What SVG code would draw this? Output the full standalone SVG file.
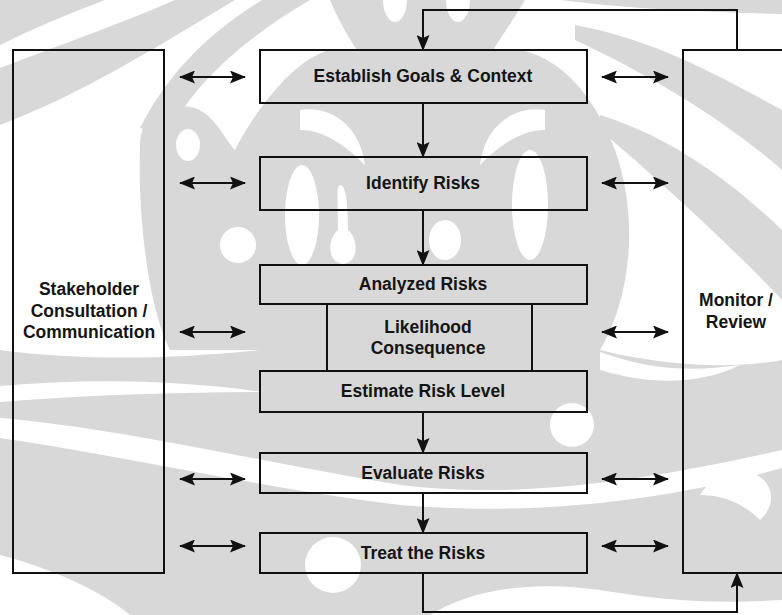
<svg xmlns="http://www.w3.org/2000/svg" width="782" height="615" viewBox="0 0 782 615">
  <style>
    .box { fill: none; stroke: #111; stroke-width: 2; }
    .wire { fill: none; stroke: #111; stroke-width: 2; }
    .label { font-family: "Liberation Sans", Arial, sans-serif; font-size: 17.5px; font-weight: bold; fill: #141414; text-anchor: middle; }
    .wm { fill: #d8d8d8; }
    .wm-hole { fill: #ffffff; }
  </style>
  <defs>
    <marker id="head" viewBox="0 0 16 13" refX="15" refY="6.5" markerWidth="16" markerHeight="13" markerUnits="userSpaceOnUse" orient="auto-start-reverse">
      <path d="M0,0 L16,6.5 L0,13 L3,6.5 Z" fill="#111"/>
    </marker>
  </defs>

  <rect width="782" height="615" fill="#ffffff"/>

  <!-- background ornament -->
  <g id="watermark">
    <!-- upper left sweeps -->
    <path class="wm" d="M0,0 H105 C65,15 30,30 0,45 Z"/>
    <path class="wm" d="M0,68 C60,45 130,20 175,0 H235 C160,45 80,95 0,125 Z"/>
    <path class="wm" d="M262,0 H310 C250,35 195,80 168,135 L140,128 C168,72 212,30 262,0 Z"/>
    <!-- crown -->
    <path class="wm" d="M330,0 H525 C512,22 500,38 492,52 H358 C348,36 338,20 330,0 Z"/>
    <ellipse class="wm-hole" cx="395" cy="0" rx="12" ry="22"/>
    <ellipse class="wm-hole" cx="458" cy="0" rx="12" ry="22"/>
    <!-- central mask -->
    <path class="wm" d="M140,150 C138,115 165,100 195,108 C215,115 225,140 235,150 C250,120 290,60 330,50 H520 C570,60 600,110 615,150 C640,220 630,300 600,350 H170 C145,300 138,200 140,150 Z"/>
    <ellipse class="wm-hole" cx="188" cy="145" rx="12" ry="16"/>
    <circle class="wm-hole" cx="238" cy="245" r="18"/>
    <path class="wm-hole" d="M300,110 C330,105 360,125 365,165 C340,140 320,130 300,130 Z"/>
    <path class="wm-hole" d="M545,110 C515,105 485,125 480,165 C505,140 525,130 545,130 Z"/>
    <ellipse class="wm-hole" cx="302" cy="215" rx="17" ry="50"/>
    <path class="wm-hole" d="M340,185 C346,185 348,205 348,230 C358,238 360,262 343,264 C326,262 328,238 338,230 C338,205 336,185 340,185 Z"/>
    <ellipse class="wm-hole" cx="445" cy="240" rx="16" ry="20"/>
    <ellipse class="wm-hole" cx="530" cy="205" rx="18" ry="55"/>
    <!-- upper right sweeps -->
    <path class="wm" d="M560,0 H782 V14 C700,12 620,8 560,0 Z"/>
    <path class="wm" d="M575,25 C660,40 735,85 782,110 V170 C725,120 650,75 575,40 Z"/>
    <path class="wm" d="M600,115 C680,140 740,190 782,230 V300 C735,250 665,185 600,130 Z"/>
    <!-- lower field -->
    <path class="wm" d="M0,350 C90,362 180,358 260,350 H600 C660,365 730,370 782,360 V615 H0 Z"/>
    <path class="wm-hole" d="M0,386 C90,378 180,380 262,392 C180,392 90,395 0,402 Z"/>
    <path class="wm-hole" d="M0,418 C120,428 260,462 400,485 C520,500 650,480 782,450 V468 C650,505 520,515 400,505 C260,488 120,455 0,438 Z"/>
    <path class="wm-hole" d="M600,352 C650,370 690,372 740,365 C700,385 650,385 600,370 Z"/>
    <circle class="wm-hole" cx="572" cy="425" r="22"/>
    <path class="wm-hole" d="M735,470 C770,470 782,500 760,520 C745,505 725,495 700,495 C710,480 720,472 735,470 Z"/>
    <path class="wm-hole" d="M0,555 C50,568 100,590 130,615 H0 Z"/>
    <circle class="wm-hole" cx="333" cy="565" r="28"/>
    <path class="wm-hole" d="M430,615 C470,590 530,580 600,590 C650,598 700,605 782,600 V615 Z"/>
  </g>

  <!-- connectors -->
  <g id="connectors">
    <!-- main chain -->
    <line class="wire" x1="423" y1="103" x2="423" y2="157" marker-end="url(#head)"/>
    <line class="wire" x1="423" y1="210" x2="423" y2="265" marker-end="url(#head)"/>
    <line class="wire" x1="423" y1="412" x2="423" y2="453" marker-end="url(#head)"/>
    <line class="wire" x1="423" y1="493" x2="423" y2="533" marker-end="url(#head)"/>
    <!-- feedback loops -->
    <polyline class="wire" points="737,50 737,10 423,10 423,50" marker-end="url(#head)"/>
    <polyline class="wire" points="423,573 423,612 737,612 737,573" marker-end="url(#head)"/>
    <!-- stakeholder links -->
    <line class="wire" x1="180" y1="77" x2="245" y2="77" marker-start="url(#head)" marker-end="url(#head)"/>
    <line class="wire" x1="180" y1="183" x2="245" y2="183" marker-start="url(#head)" marker-end="url(#head)"/>
    <line class="wire" x1="180" y1="332" x2="245" y2="332" marker-start="url(#head)" marker-end="url(#head)"/>
    <line class="wire" x1="180" y1="479" x2="245" y2="479" marker-start="url(#head)" marker-end="url(#head)"/>
    <line class="wire" x1="180" y1="546" x2="245" y2="546" marker-start="url(#head)" marker-end="url(#head)"/>
    <!-- monitor links -->
    <line class="wire" x1="602" y1="77" x2="668" y2="77" marker-start="url(#head)" marker-end="url(#head)"/>
    <line class="wire" x1="602" y1="183" x2="668" y2="183" marker-start="url(#head)" marker-end="url(#head)"/>
    <line class="wire" x1="602" y1="332" x2="668" y2="332" marker-start="url(#head)" marker-end="url(#head)"/>
    <line class="wire" x1="602" y1="479" x2="668" y2="479" marker-start="url(#head)" marker-end="url(#head)"/>
    <line class="wire" x1="602" y1="546" x2="668" y2="546" marker-start="url(#head)" marker-end="url(#head)"/>
  </g>

  <g id="stakeholder">
    <rect class="box" x="13" y="50" width="151" height="523"/>
    <text class="label" x="89" y="295">Stakeholder</text>
    <text class="label" x="89" y="317">Consultation /</text>
    <text class="label" x="89" y="338">Communication</text>
  </g>

  <g id="monitor">
    <rect class="box" x="683" y="50" width="110" height="523"/>
    <text class="label" x="736" y="306">Monitor /</text>
    <text class="label" x="736" y="328">Review</text>
  </g>

  <g id="establish">
    <rect class="box" x="260" y="50" width="327" height="53"/>
    <text class="label" x="423" y="82">Establish Goals &amp; Context</text>
  </g>

  <g id="identify">
    <rect class="box" x="260" y="157" width="327" height="53"/>
    <text class="label" x="423" y="189">Identify Risks</text>
  </g>

  <g id="analyzed">
    <rect class="box" x="260" y="265" width="327" height="39"/>
    <text class="label" x="423" y="290">Analyzed Risks</text>
  </g>

  <g id="likelihood">
    <path class="box" d="M327,304 V371 M532,304 V371"/>
    <text class="label" x="428" y="333">Likelihood</text>
    <text class="label" x="428" y="354">Consequence</text>
  </g>

  <g id="estimate">
    <rect class="box" x="260" y="371" width="327" height="41"/>
    <text class="label" x="423" y="397">Estimate Risk Level</text>
  </g>

  <g id="evaluate">
    <rect class="box" x="260" y="453" width="327" height="40"/>
    <text class="label" x="423" y="479">Evaluate Risks</text>
  </g>

  <g id="treat">
    <rect class="box" x="260" y="533" width="327" height="40"/>
    <text class="label" x="423" y="559">Treat the Risks</text>
  </g>
</svg>
